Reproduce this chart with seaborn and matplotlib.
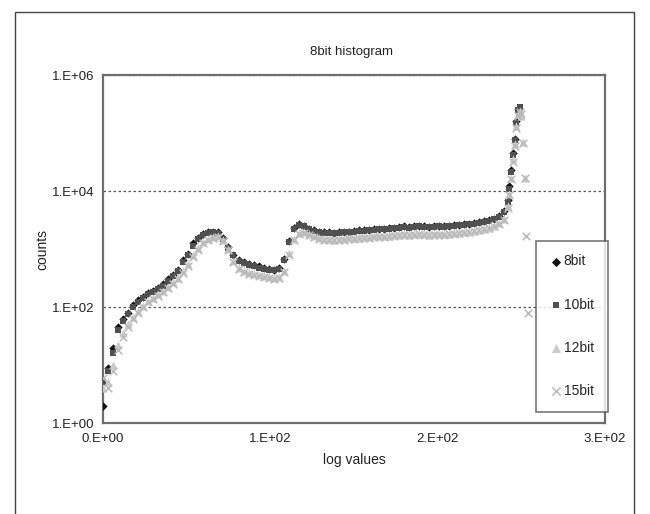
import numpy as np
import pandas as pd
import matplotlib
matplotlib.use("Agg")
import matplotlib.pyplot as plt
from matplotlib.ticker import FuncFormatter, FixedLocator
from matplotlib.patches import Rectangle
import seaborn as sns

# ---------------- data ----------------
X_BODY = [0, 3, 6, 9, 12, 15, 18, 21, 24, 27, 30, 33, 36, 39, 42, 45, 48, 51, 54, 57,
          60, 63, 66, 69, 72, 75, 78, 81, 84, 87, 90, 93, 96, 99, 102, 105, 108, 111, 114, 117,
          120, 123, 126, 129, 132, 135, 138, 141, 144, 147, 150, 153, 156, 159, 162, 165, 168, 171, 174, 177,
          180, 183, 186, 189, 192, 195, 198, 201, 204, 207, 210, 213, 216, 219, 222, 225, 228, 231, 234, 237,
          240]

bit8_body = [2, 9, 20, 45, 62, 80, 110, 130, 150, 175, 190, 215, 245, 300, 360, 440, 640, 820, 1250, 1550,
             1800, 1950, 2000, 1950, 1550, 1100, 800, 650, 590, 560, 530, 500, 480, 455, 440, 470, 680, 1400, 2300, 2650,
             2500, 2250, 2100, 2000, 1950, 1950, 1900, 1950, 2000, 2000, 2050, 2100, 2100, 2150, 2200, 2250, 2200, 2300, 2350, 2400,
             2450, 2400, 2450, 2500, 2450, 2400, 2450, 2500, 2450, 2500, 2550, 2600, 2650, 2700, 2800, 2900, 3000, 3150, 3350, 3700,
             4500]
bit8_peak_x = [242, 243, 244, 245, 246, 247, 248]
bit8_peak = [7000, 12000, 23000, 46000, 80000, 160000, 260000]

bit10_body = [5, 8, 16, 40, 58, 75, 100, 122, 145, 170, 185, 205, 235, 285, 345, 420, 600, 780, 1150, 1500,
              1750, 1900, 1950, 1900, 1500, 1050, 780, 630, 570, 540, 510, 480, 460, 440, 430, 450, 640, 1300, 2200, 2550,
              2450, 2200, 2050, 1950, 1900, 1900, 1880, 1900, 1950, 1980, 2000, 2050, 2080, 2100, 2150, 2200, 2180, 2250, 2300, 2350,
              2400, 2350, 2400, 2450, 2400, 2380, 2400, 2450, 2420, 2450, 2500, 2550, 2600, 2650, 2750, 2850, 2950, 3100, 3300, 3600,
              4300]
bit10_peak_x = [242, 243, 244, 245, 246, 247, 248, 249]
bit10_peak = [6500, 11000, 21000, 42000, 75000, 150000, 250000, 280000]

bit12_body = [4, 5, 10, 22, 35, 50, 68, 85, 105, 125, 145, 165, 190, 220, 265, 320, 420, 560, 780, 1050,
              1300, 1500, 1600, 1650, 1450, 1000, 620, 470, 420, 390, 370, 350, 340, 330, 320, 330, 420, 850, 1500, 1900,
              1950, 1800, 1650, 1550, 1500, 1480, 1450, 1480, 1500, 1520, 1550, 1580, 1600, 1620, 1650, 1680, 1650, 1700, 1750, 1780,
              1800, 1780, 1820, 1850, 1800, 1780, 1800, 1830, 1800, 1850, 1880, 1920, 1950, 2000, 2080, 2150, 2250, 2350, 2500, 2800,
              3300]
bit12_peak_x = [242, 243, 244, 245, 246, 247, 248, 249, 250, 251, 252]
bit12_peak = [5500, 9000, 17000, 35000, 65000, 130000, 210000, 240000, 200000, 70000, 17000]

bit15_body = [6, 4, 8, 18, 30, 45, 62, 80, 100, 120, 140, 158, 180, 210, 250, 300, 390, 520, 720, 980,
              1250, 1450, 1550, 1600, 1400, 950, 600, 450, 400, 375, 355, 340, 330, 320, 310, 320, 400, 800, 1450, 1850,
              1900, 1750, 1600, 1500, 1450, 1430, 1420, 1440, 1460, 1480, 1500, 1530, 1550, 1570, 1600, 1620, 1600, 1650, 1700, 1720,
              1750, 1730, 1760, 1800, 1760, 1740, 1760, 1780, 1760, 1800, 1830, 1870, 1900, 1950, 2020, 2100, 2200, 2300, 2450, 2700,
              3200]
bit15_peak_x = [242, 243, 244, 245, 246, 247, 248, 249, 250, 251, 252, 253, 254]
bit15_peak = [5000, 8500, 16000, 32000, 60000, 120000, 200000, 230000, 210000, 68000, 16500, 1700, 80]

SERIES = ["8bit", "10bit", "12bit", "15bit"]
X_TICKS = [0, 100, 200, 300]
Y_TICKS = [1, 1e2, 1e4, 1e6]

frames = []
for name, body, px, pk in [("8bit", bit8_body, bit8_peak_x, bit8_peak),
                           ("10bit", bit10_body, bit10_peak_x, bit10_peak),
                           ("12bit", bit12_body, bit12_peak_x, bit12_peak),
                           ("15bit", bit15_body, bit15_peak_x, bit15_peak)]:
    frames.append(pd.DataFrame({"x": X_BODY + px, "y": body + pk, "series": name}))
df = pd.concat(frames, ignore_index=True)

# ---------------- style ----------------
sns.set_style("white")
plt.rcParams["font.family"] = ["Liberation Sans Narrow", "Liberation Sans", "DejaVu Sans"]

fig = plt.figure(figsize=(6.5, 5.14), dpi=100)
fig.patches.append(Rectangle((0.023, -0.05), 0.952, 1.027, transform=fig.transFigure,
                             fill=False, edgecolor="#444444", linewidth=1.0))

ax = fig.add_axes([0.1585, 0.177, 0.772, 0.677])

palette = {"8bit": "#111111", "10bit": "#505050", "12bit": "#cacaca", "15bit": "#bababa"}
markers = {"8bit": "D", "10bit": "s", "12bit": "^", "15bit": "x"}
msize = {"8bit": 18, "10bit": 20, "12bit": 34, "15bit": 30}

for name in SERIES:
    sub = df[df["series"] == name]
    if name == "15bit":
        sns.scatterplot(data=sub, x="x", y="y", ax=ax, marker="x", color=palette[name],
                        s=msize[name], linewidth=1.1, label=name, zorder=3)
    else:
        sns.scatterplot(data=sub, x="x", y="y", ax=ax, marker=markers[name], color=palette[name],
                        s=msize[name], linewidth=0, label=name, zorder=3)

ax.set_yscale("log")
ax.set_xlim(0, 300)
ax.set_ylim(1, 1e6)
ax.xaxis.set_major_locator(FixedLocator(X_TICKS))
ax.yaxis.set_major_locator(FixedLocator(Y_TICKS))
ax.yaxis.set_minor_locator(FixedLocator([]))


def sci(v, pos):
    if v == 0:
        return "0.E+00"
    e = int(np.floor(np.log10(v) + 1e-9))
    m = int(round(v / 10 ** e))
    return f"{m}.E+{e:02d}"


ax.xaxis.set_major_formatter(FuncFormatter(sci))
ax.yaxis.set_major_formatter(FuncFormatter(sci))
ax.tick_params(axis="both", labelsize=9.5, colors="#222222", length=3, direction="in", width=0.8)
ax.tick_params(axis="y", length=0, pad=6)
ax.tick_params(axis="x", pad=7)

ax.yaxis.grid(True, linestyle=(0, (2, 2)), color="#555555", linewidth=0.9)
ax.xaxis.grid(False)
for sp in ax.spines.values():
    sp.set_color("#6e6e6e")
    sp.set_linewidth(1.6)

ax.set_xlabel("log values", fontsize=10, color="#222222", labelpad=6)
ax.set_ylabel("counts", fontsize=10, color="#222222", labelpad=2)
fig.text(0.54, 0.898, "8bit histogram", ha="center", va="center", fontsize=9.5, color="#222222")

leg = ax.legend(loc="lower right", bbox_to_anchor=(1.006, 0.032), frameon=True, fancybox=False,
                fontsize=10, labelspacing=2.1, handletextpad=0.1, handlelength=0.9,
                borderpad=1.0, borderaxespad=0, markerscale=1.1)
leg.get_frame().set_edgecolor("#555555")
leg.get_frame().set_linewidth(1.2)
leg.set_zorder(5)

fig.savefig("out.png", dpi=100)
